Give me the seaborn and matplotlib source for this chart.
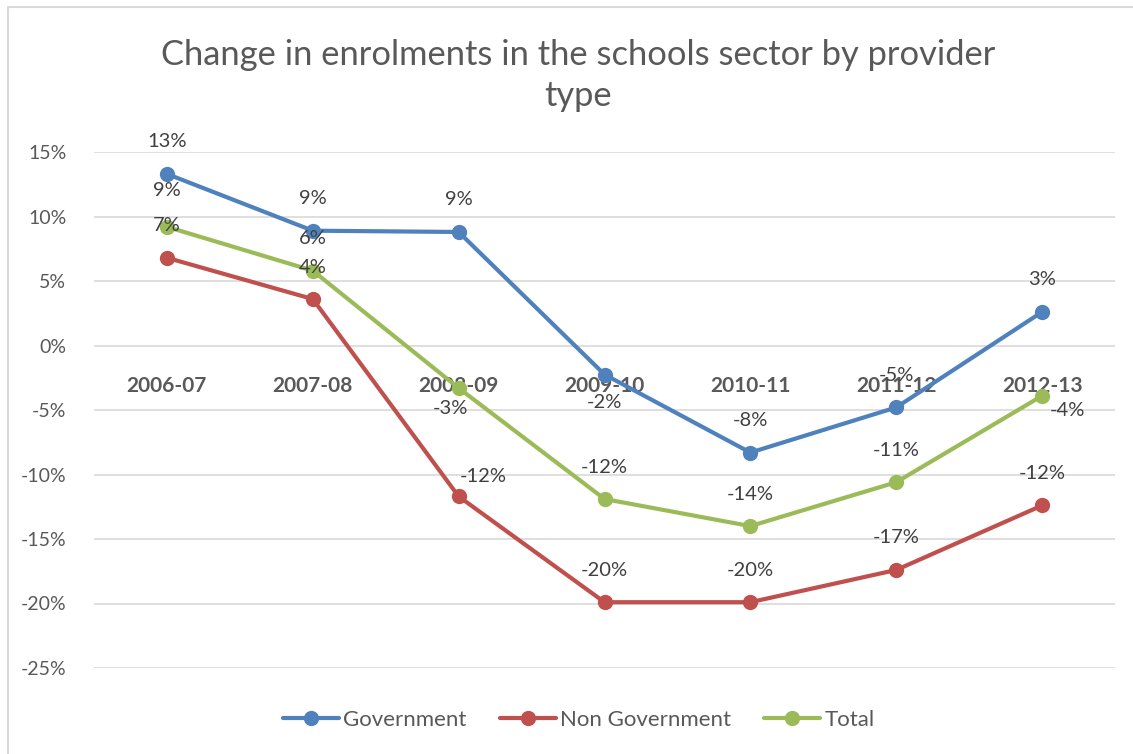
import matplotlib
matplotlib.use("Agg")
import matplotlib.pyplot as plt
import seaborn as sns
import pandas as pd
from matplotlib.lines import Line2D
from matplotlib.ticker import FuncFormatter, MultipleLocator

categories = ["2006-07", "2007-08", "2008-09", "2009-10", "2010-11", "2011-12", "2012-13"]
government = [13.3, 8.9, 8.8, -2.25, -8.3, -4.8, 2.6]
non_government = [6.8, 3.6, -11.7, -19.9, -19.9, -17.4, -12.4]
total = [9.2, 5.8, -3.3, -11.9, -14.0, -10.6, -3.9]
series_names = ["Government", "Non Government", "Total"]
colors = ["#4F81BD", "#C0504D", "#9BBB59"]
title = "Change in enrolments in the schools sector by provider\ntype"

# label offsets in pixels (style only)
label_offsets = {
    "Government": [(0, 32), (0, 32), (0, 32), (0, -28), (0, 32), (0, 32), (0, 32)],
    "Non Government": [(0, 32), (0, 32), (25, 20), (0, 32), (0, 32), (0, 32), (0, 32)],
    "Total": [(0, 36), (0, 32), (-8, -20), (0, 32), (0, 32), (0, 32), (25, -15)],
}

sns.set_theme(style="white")
FONT = ["Lato", "DejaVu Sans"]
plt.rcParams["font.family"] = FONT
TXT = "#595959"

rows = []
for name, vals in zip(series_names, [government, non_government, total]):
    for i, (c, v) in enumerate(zip(categories, vals)):
        rows.append({"idx": i, "Category": c, "Series": name, "Value": v})
df = pd.DataFrame(rows)

fig = plt.figure(figsize=(11.33, 7.54), dpi=100)
ax = fig.add_axes([94 / 1133, 86 / 754, (1115 - 94) / 1133, (668 - 152) / 754])

sns.lineplot(data=df, x="idx", y="Value", hue="Series", hue_order=series_names,
             palette=colors, marker="o", markersize=11, markeredgewidth=0,
             linewidth=3, sort=False, ax=ax, legend=False)

ax.set_xlim(-0.5, len(categories) - 0.5)
ax.set_ylim(-25, 15)
ax.yaxis.set_major_locator(MultipleLocator(5))
ax.yaxis.set_major_formatter(FuncFormatter(lambda v, p: f"{v:.0f}%"))
ax.grid(axis="y", color="#D9D9D9", linewidth=1.2)
ax.set_axisbelow(True)
for s in ax.spines.values():
    s.set_visible(False)
ax.set_xlabel("")
ax.set_ylabel("")
ax.tick_params(axis="y", length=0, labelsize=14, labelcolor=TXT, pad=20)

# category axis at zero
ax.spines["bottom"].set_position(("data", 0))
ax.set_xticks(range(len(categories)))
ax.set_xticklabels(categories, fontweight="bold", fontsize=15, color=TXT)
ax.tick_params(axis="x", length=0, pad=22)

for name, vals in zip(series_names, [government, non_government, total]):
    for i, v in enumerate(vals):
        dx, dy = label_offsets[name][i]
        ax.annotate(f"{v:.0f}%", (i, v), xytext=(dx * 0.72, dy * 0.72),
                    textcoords="offset points", ha="center", va="center",
                    fontsize=14.5, color="#404040")

fig.text(0.510, 0.900, title, ha="center", va="center", fontsize=24.8,
         color=TXT, linespacing=1.36)

handles = [Line2D([0], [0], color=c, lw=3, marker="o", markersize=11,
                  markeredgewidth=0) for c in colors]
fig.legend(handles, series_names, loc="center", bbox_to_anchor=(0.511, 0.045),
           ncol=3, frameon=False, fontsize=16, handlelength=2.5,
           handletextpad=0.2, columnspacing=1.5, labelcolor=TXT)

# chart border (left and top visible)
fig.add_artist(Line2D([7.5 / 1133, 7.5 / 1133], [0, 1 - 7 / 754], color="#D9D9D9",
                      lw=1.5, transform=fig.transFigure))
fig.add_artist(Line2D([7.5 / 1133, 1], [1 - 7 / 754, 1 - 7 / 754], color="#D9D9D9",
                      lw=1.5, transform=fig.transFigure))

fig.savefig("out.png", dpi=100, facecolor="white")
